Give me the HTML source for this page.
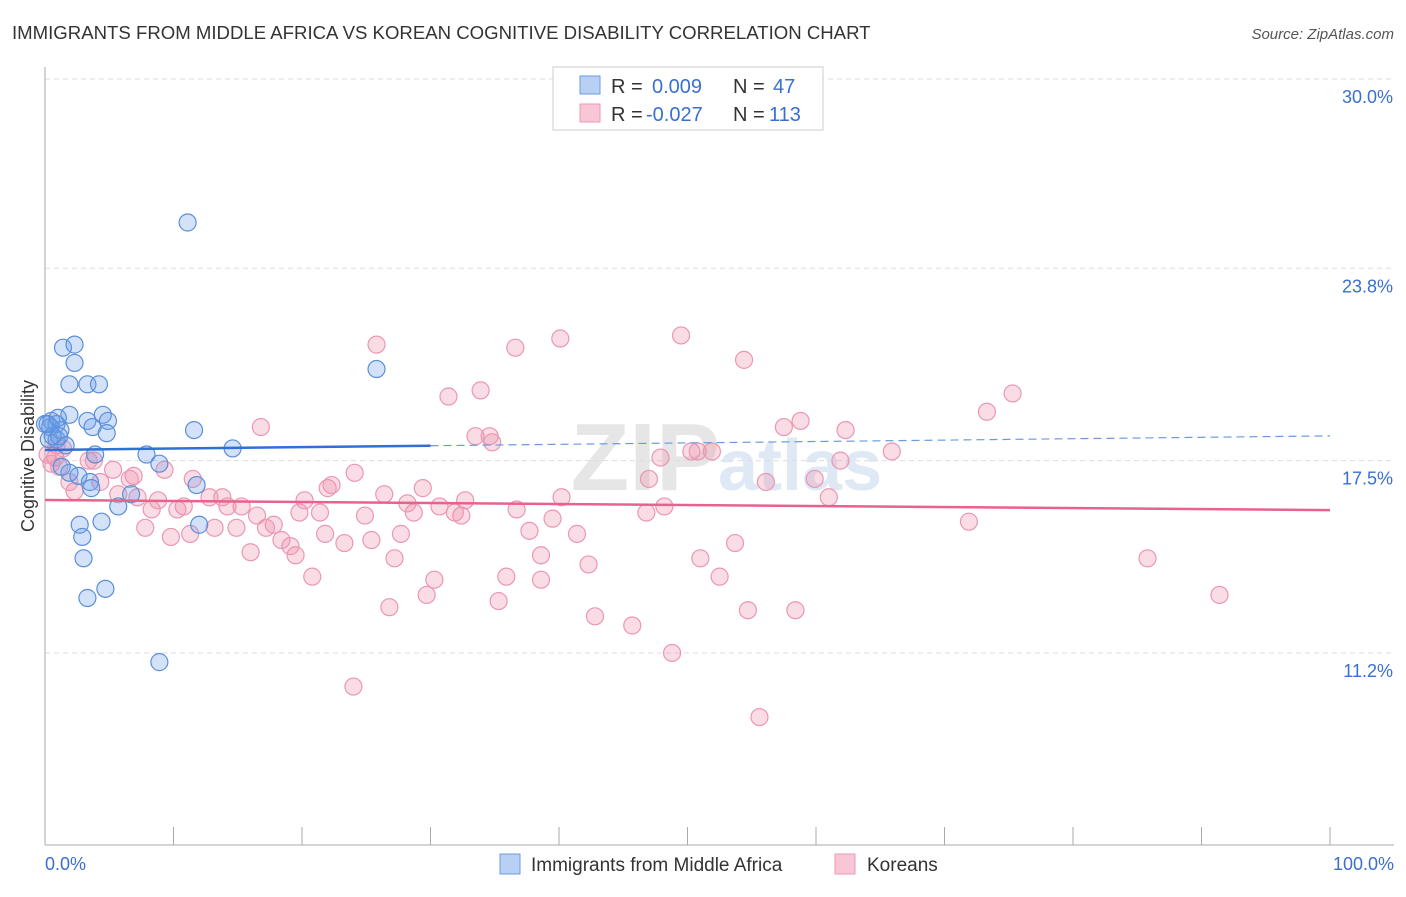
<!DOCTYPE html>
<html><head><meta charset="utf-8"><style>
body{margin:0;background:#fff;font-family:"Liberation Sans",sans-serif;}
svg text{font-family:"Liberation Sans",sans-serif;}
</style></head><body>
<svg id="c" width="1406" height="892" xmlns="http://www.w3.org/2000/svg">
<text x="12" y="39" font-size="18.6" fill="#333">IMMIGRANTS FROM MIDDLE AFRICA VS KOREAN COGNITIVE DISABILITY CORRELATION CHART</text>
<text x="1394" y="39" font-size="15" fill="#555" font-style="italic" text-anchor="end">Source: ZipAtlas.com</text>
<text x="720" y="490" font-size="96" fill="#e6e6e6" text-anchor="end" font-family="Liberation Serif" font-weight="bold">ZIP</text>
<text x="718" y="490" font-size="72" fill="#dfe8f5" font-weight="bold">atlas</text>
<text transform="translate(34,456) rotate(-90)" font-size="18" fill="#333" text-anchor="middle">Cognitive Disability</text>
<g id="grid"></g><g id="pts"></g><g id="trend"></g>
<g>
<rect x="553" y="67" width="270" height="63" fill="#fff" stroke="#ccc"/>
<rect x="580" y="76" width="20" height="18" fill="#b7d0f3" stroke="#6a9be0"/>
<rect x="580" y="104" width="20" height="18" fill="#f9c6d6" stroke="#ec9ab5"/>
<text x="611" y="93" font-size="20" fill="#333">R = <tspan x="652" fill="#3a6fd0">0.009</tspan><tspan x="733" fill="#333">N = </tspan><tspan x="773" fill="#3a6fd0">47</tspan></text>
<text x="611" y="121" font-size="20" fill="#333">R = <tspan x="646" fill="#3a6fd0">-0.027</tspan><tspan x="733" fill="#333">N = </tspan><tspan x="769" fill="#3a6fd0">113</tspan></text>
</g>
<g>
<rect x="500" y="854" width="20" height="20" fill="#b7d0f3" stroke="#6a9be0"/>
<text x="531" y="871" font-size="19" fill="#333">Immigrants from Middle Africa</text>
<rect x="835" y="854" width="20" height="20" fill="#f9c6d6" stroke="#ec9ab5"/>
<text x="867" y="871" font-size="19" fill="#333">Koreans</text>
</g>
</svg>
<script>
const yTicks=[30.0,23.8,17.5,11.2];
const yTickLabels=["30.0%","23.8%","17.5%","11.2%"];
const xTickLabels=["0.0%","100.0%"];
const blueX=[1.4,2.3,2.3,1.9,3.3,4.2,0.5,0.9,1.9,3.3,4.5,4.9,3.7,4.8,0.3,0.9,1.6,1.2,3.9,7.9,8.9,14.6,11.6,25.8,11.1,1.9,2.6,3.5,3.6,5.7,6.7,11.8,4.4,2.7,2.9,3.0,12.0,4.7,3.3,8.9,0.4,0.0,0.6,1.3,1.1,0.2,1.0];
const blueY=[21.2,21.3,20.7,20.0,20.0,20.0,18.8,18.7,19.0,18.8,19.0,18.8,18.6,18.4,18.2,18.2,18.0,18.5,17.7,17.7,17.4,17.9,18.5,20.5,25.3,17.1,17.0,16.8,16.6,16.0,16.4,16.7,15.5,15.4,15.0,14.3,15.4,13.3,13.0,10.9,18.6,18.7,18.3,17.3,18.3,18.7,18.9];
const pinkX=[25.8,36.6,40.1,49.5,54.4,31.4,33.9,75.3,73.3,16.8,33.5,34.6,34.8,57.5,58.8,62.3,65.9,50.3,50.8,51.9,47.9,61.9,59.9,56.1,47.0,61.0,40.2,71.9,85.8,91.4,48.2,46.8,53.7,51.0,52.5,54.7,58.4,48.8,45.7,42.8,55.6,24.0,26.8,29.7,30.3,35.3,35.9,38.6,42.3,38.6,41.4,39.5,37.7,36.7,32.7,32.4,31.9,30.7,28.7,28.2,29.4,26.4,27.7,27.2,25.4,24.9,24.1,22.0,22.3,20.2,19.8,21.4,21.8,23.3,20.8,19.5,19.1,18.4,17.8,17.2,16.5,15.3,14.2,14.9,16.0,13.8,13.2,12.8,11.5,11.3,10.8,10.3,9.8,8.8,8.3,9.3,7.8,7.2,6.9,6.6,5.3,5.7,4.3,3.8,3.4,2.3,1.9,1.1,0.8,0.2,0.9,0.5,1.4];
const pinkY=[21.3,21.2,21.5,21.6,20.8,19.6,19.8,19.7,19.1,18.6,18.3,18.3,18.1,18.6,18.8,18.5,17.8,17.8,17.8,17.8,17.6,17.5,16.9,16.8,16.9,16.3,16.3,15.5,14.3,13.1,16.0,15.8,14.8,14.3,13.7,12.6,12.6,11.2,12.1,12.4,9.1,10.1,12.7,13.1,13.6,12.9,13.7,13.6,14.1,14.4,15.1,15.6,15.2,15.9,16.2,15.7,15.8,16.0,15.8,16.1,16.6,16.4,15.1,14.3,14.9,15.7,17.1,16.6,16.7,16.2,15.8,15.8,15.1,14.8,13.7,14.4,14.7,14.9,15.4,15.3,15.7,16.0,16.0,15.3,14.5,16.3,15.3,16.3,16.9,15.1,16.0,15.9,15.0,16.2,15.9,17.2,15.3,16.3,17.0,16.9,17.2,16.4,16.8,17.5,17.5,16.5,16.8,17.3,17.6,17.7,18.0,17.4,17.9];
const blueTrend=[17.85,18.31];
const pinkTrend=[16.21,15.88];
const NS="http://www.w3.org/2000/svg";
const X=v=>45+v*12.85, Y=v=>79+(30-v)*30.53;
function mk(t,a,p){const e=document.createElementNS(NS,t);for(const k in a)e.setAttribute(k,a[k]);p.appendChild(e);return e;}
const g=document.getElementById('grid');
yTicks.forEach((t,i)=>{
 const l=mk('line',{x1:45,x2:1394,y1:Y(t),y2:Y(t),stroke:'#ddd','stroke-dasharray':'5,4'},g);
 
 
 const tx=mk('text',{x:1393,y:Y(t)+24,'font-size':18,fill:'#3a6fd0','text-anchor':'end'},g);
 tx.textContent=yTickLabels[i];
 
 
});
const ax=mk('line',{x1:45,x2:45,y1:67,y2:845,stroke:'#aaa'},g);


const bx=mk('line',{x1:45,x2:1394,y1:845,y2:845,stroke:'#aaa'},g);


for(let i=0;i<=10;i++){const t=mk('line',{x1:X(i*10),x2:X(i*10),y1:827,y2:845,stroke:'#aaa'},g);
 
 }
const xl0=mk('text',{x:45,y:870,'font-size':18,fill:'#3a6fd0'},g);xl0.textContent=xTickLabels[0];


const xl1=mk('text',{x:1394,y:870,'font-size':18,fill:'#3a6fd0','text-anchor':'end'},g);xl1.textContent=xTickLabels[1];


const p=document.getElementById('pts');
pinkX.forEach((v,i)=>{const c=mk('circle',{cx:X(v),cy:Y(pinkY[i]),r:8.5,fill:'rgba(240,140,170,0.3)',stroke:'#eb97b3','stroke-width':1.2},p);
 
 });
blueX.forEach((v,i)=>{const c=mk('circle',{cx:X(v),cy:Y(blueY[i]),r:8.5,fill:'rgba(110,160,235,0.3)',stroke:'#5b8fd9','stroke-width':1.2},p);
 
 });
const tr=document.getElementById('trend');
const bAt=x=>blueTrend[0]+(blueTrend[1]-blueTrend[0])*x/100;
const l1=mk('line',{x1:X(0),y1:Y(bAt(0)),x2:X(30),y2:Y(bAt(30)),stroke:'#2f6fd6','stroke-width':2.5},tr);


const l2=mk('line',{x1:X(30),y1:Y(bAt(30)),x2:X(100),y2:Y(bAt(100)),stroke:'#6a9be0','stroke-width':1.2,'stroke-dasharray':'8,5'},tr);


const l3=mk('line',{x1:X(0),y1:Y(pinkTrend[0]),x2:X(100),y2:Y(pinkTrend[1]),stroke:'#e8628e','stroke-width':2.5},tr);


</script>
</body></html>
